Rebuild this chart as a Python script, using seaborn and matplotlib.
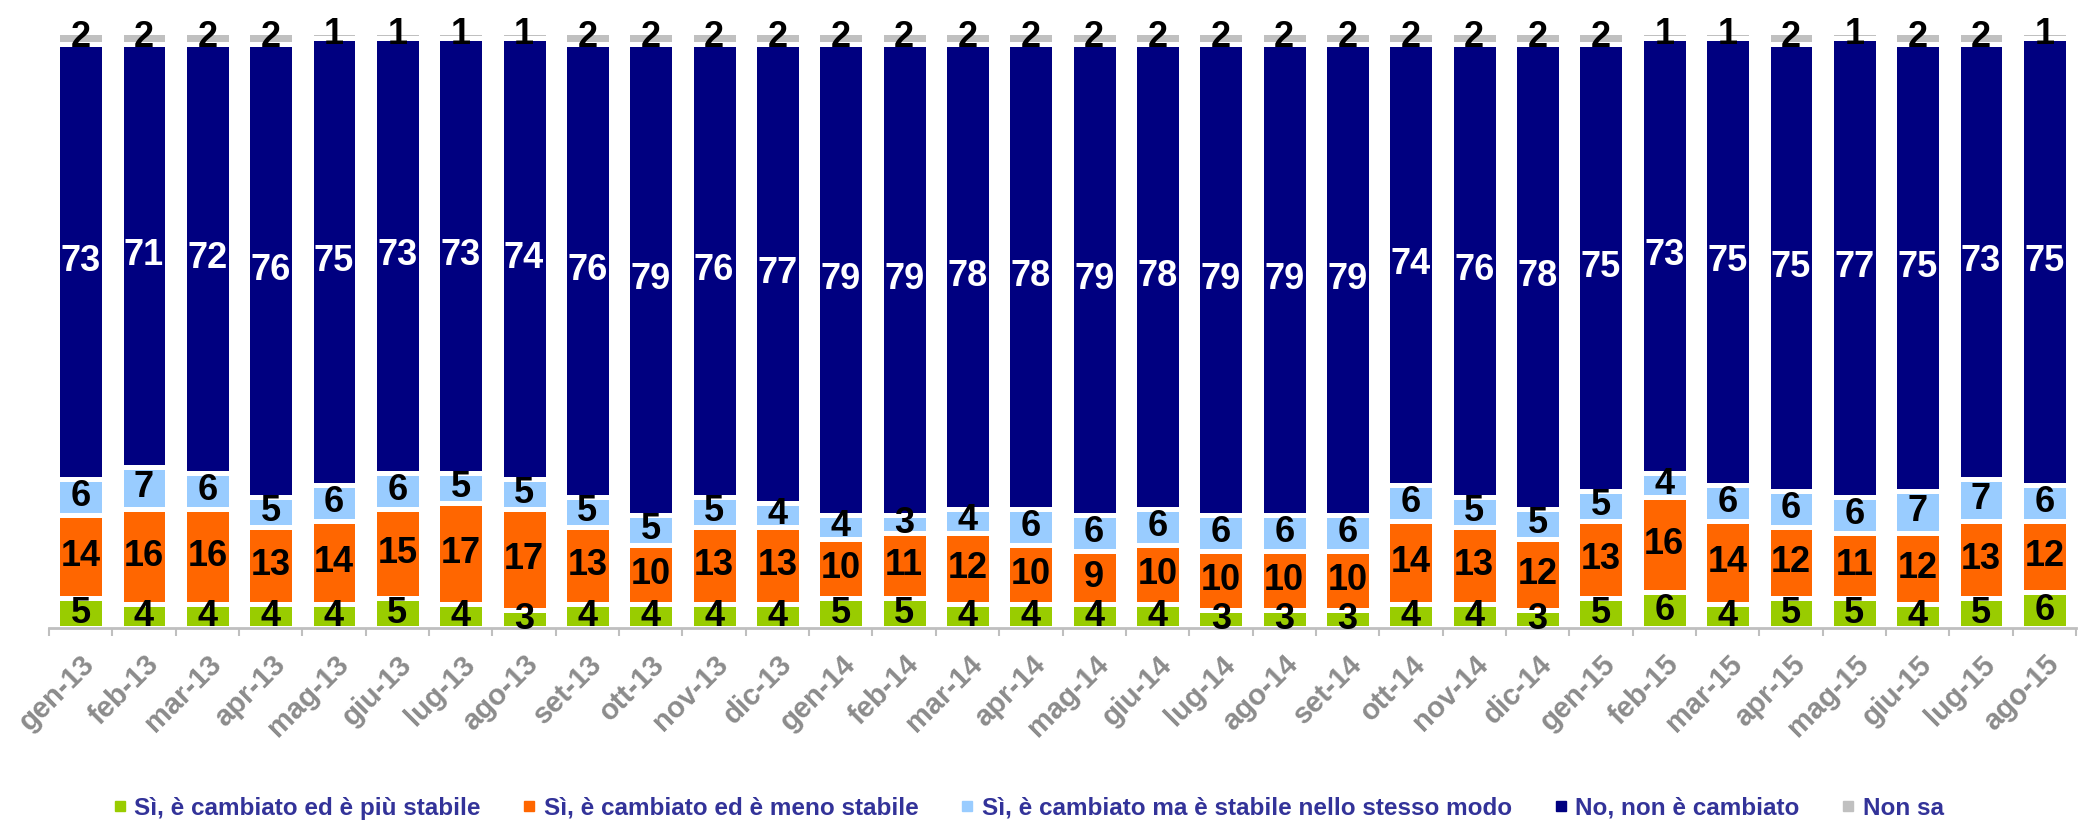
import numpy as np
import pandas as pd
import matplotlib
matplotlib.use("Agg")
import matplotlib.pyplot as plt
from matplotlib.lines import Line2D
import seaborn as sns

months = ["gen-13", "feb-13", "mar-13", "apr-13", "mag-13", "giu-13", "lug-13", "ago-13",
          "set-13", "ott-13", "nov-13", "dic-13", "gen-14", "feb-14", "mar-14", "apr-14",
          "mag-14", "giu-14", "lug-14", "ago-14", "set-14", "ott-14", "nov-14", "dic-14",
          "gen-15", "feb-15", "mar-15", "apr-15", "mag-15", "giu-15", "lug-15", "ago-15"]

piu_stabile = [5, 4, 4, 4, 4, 5, 4, 3, 4, 4, 4, 4, 5, 5, 4, 4,
               4, 4, 3, 3, 3, 4, 4, 3, 5, 6, 4, 5, 5, 4, 5, 6]
meno_stabile = [14, 16, 16, 13, 14, 15, 17, 17, 13, 10, 13, 13, 10, 11, 12, 10,
                9, 10, 10, 10, 10, 14, 13, 12, 13, 16, 14, 12, 11, 12, 13, 12]
stesso_modo = [6, 7, 6, 5, 6, 6, 5, 5, 5, 5, 5, 4, 4, 3, 4, 6,
               6, 6, 6, 6, 6, 6, 5, 5, 5, 4, 6, 6, 6, 7, 7, 6]
non_cambiato = [73, 71, 72, 76, 75, 73, 73, 74, 76, 79, 76, 77, 79, 79, 78, 78,
                79, 78, 79, 79, 79, 74, 76, 78, 75, 73, 75, 75, 77, 75, 73, 75]
non_sa = [2, 2, 2, 2, 1, 1, 1, 1, 2, 2, 2, 2, 2, 2, 2, 2,
          2, 2, 2, 2, 2, 2, 2, 2, 2, 1, 1, 2, 1, 2, 2, 1]

series_names = ["Sì, è cambiato ed è più stabile",
                "Sì, è cambiato ed è meno stabile",
                "Sì, è cambiato ma è stabile nello stesso modo",
                "No, non è cambiato",
                "Non sa"]
series_values = [piu_stabile, meno_stabile, stesso_modo, non_cambiato, non_sa]
colors = ["#99CC00", "#FF6600", "#99CCFF", "#000080", "#C0C0C0"]
label_colors = ["black", "black", "black", "white", "black"]

sns.set_style("white")
plt.rcParams["font.family"] = ["Liberation Sans", "DejaVu Sans"]

fig = plt.figure(figsize=(20.87, 8.30), dpi=100)
ax = fig.add_axes([49 / 2087, 1 - 628 / 830, (2076 - 49) / 2087, (628 - 32) / 830])

vals = np.array(series_values, dtype=float)
cum = np.cumsum(vals, axis=0)

# draw cumulative bars from the top series down so each overlays the previous
for k in range(len(series_names) - 1, -1, -1):
    df = pd.DataFrame({"mese": months, "valore": cum[k]})
    sns.barplot(data=df, x="mese", y="valore", order=months, color=colors[k],
                saturation=1, width=0.74, edgecolor="white", linewidth=3.6,
                ax=ax, errorbar=None)

# value labels centred in each segment
for k in range(len(series_names)):
    bottoms = cum[k] - vals[k]
    for i in range(len(months)):
        ax.text(i, bottoms[i] + vals[k][i] / 2, f"{int(vals[k][i])}",
                ha="center", va="center", fontsize=26, fontweight="bold",
                color=label_colors[k])

ax.set_xlim(-0.5, len(months) - 0.5)
ax.set_ylim(0, 100)
ax.set_xlabel("")
ax.set_ylabel("")
ax.set_yticks([])
for s in ["top", "right", "left"]:
    ax.spines[s].set_visible(False)
ax.spines["bottom"].set_color("#BFBFBF")
ax.spines["bottom"].set_linewidth(2)

ax.set_xticks(range(len(months)))
ax.set_xticklabels(months, rotation=45, ha="right", va="top",
                   rotation_mode="anchor", fontsize=21, fontweight="bold",
                   color="#8C8C8C")
ax.tick_params(axis="x", which="major", length=0, pad=16)
ax.set_xticks(np.arange(-0.5, len(months), 1.0), minor=True)
ax.tick_params(axis="x", which="minor", length=6, width=1.5, color="#BFBFBF",
               direction="out", bottom=True)

handles = [Line2D([0], [0], marker="s", linestyle="none", markersize=7,
                  markerfacecolor=c, markeredgecolor=c) for c in colors]
fig.legend(handles, series_names, loc="center", bbox_to_anchor=(0.492, 1 - 808 / 830),
           ncol=5, frameon=False, labelcolor="#333399",
           prop={"weight": "bold", "size": 17.5}, handletextpad=0.2,
           columnspacing=1.6, handlelength=0.8)

fig.savefig("out.png", dpi=100)
